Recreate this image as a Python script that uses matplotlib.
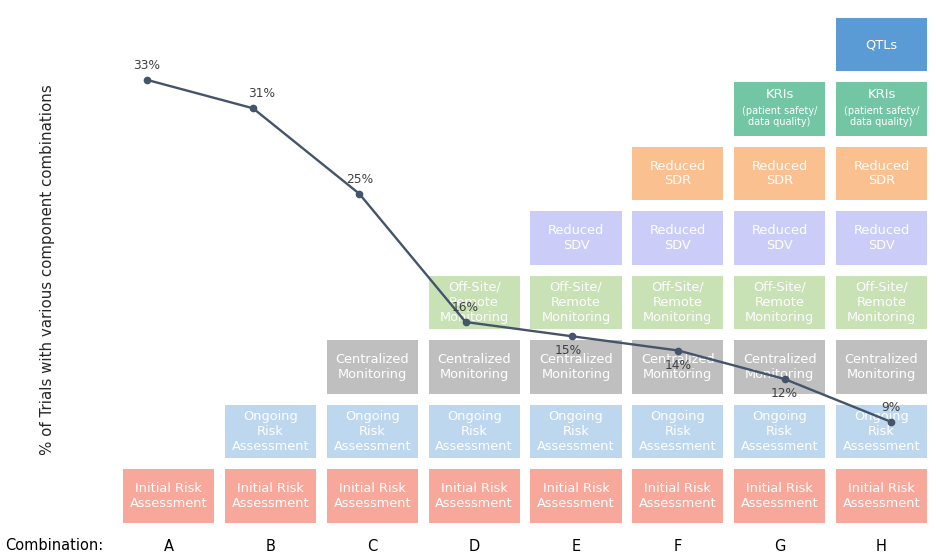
import matplotlib
matplotlib.use('Agg')
from matplotlib import pyplot as plt

plt.rcParams['font.family'] = ['DejaVu Sans']

# combinations and share of trials using each one
combos = ['A', 'B', 'C', 'D', 'E', 'F', 'G', 'H']
pct = [33, 31, 25, 16, 15, 14, 12, 9]
pct_side = ['above', 'above', 'above', 'above', 'below', 'below', 'below', 'above']

# components, stacked bottom-up; component k is present from combination k onward
components = ['Initial Risk\nAssessment', 'Ongoing\nRisk\nAssessment', 'Centralized\nMonitoring',
              'Off-Site/\nRemote\nMonitoring', 'Reduced\nSDV', 'Reduced\nSDR', 'KRIs', 'QTLs']
first_combo = [0, 1, 2, 3, 4, 5, 6, 7]
comp_colors = ['#F8A89B', '#BDD7EE', '#BFBFBF', '#C8E1B5', '#CBCDF8', '#FAC08F', '#72C6A4', '#5A9BD5']

W, H = 936, 558
fig = plt.figure(figsize=(W / 100, H / 100), dpi=100)

# box grid axes (pixel rect 117.8..932.4 x 12.25..528.25)
left, right, top, bottom = 117.8, 932.4, 12.25, 528.25
rect = [left / W, 1 - bottom / H, (right - left) / W, (bottom - top) / H]
ax = fig.add_axes(rect)
ax.set_xlim(-0.5, 7.5)
ax.set_ylim(-0.5, 7.5)

bw, bh = 0.894, 0.837
for k, name in enumerate(components):
    xs = list(range(first_combo[k], len(combos)))
    ax.bar(xs, [bh] * len(xs), bottom=k - bh / 2, width=bw, color=comp_colors[k], zorder=1)
    for x in xs:
        if name == 'KRIs':
            ax.text(x, k + 0.23, 'KRIs', ha='center', va='center', color='white', fontsize=9.5, zorder=2)
            ax.text(x, k - 0.12, '(patient safety/\ndata quality)', ha='center', va='center',
                    color='white', fontsize=7, linespacing=1.15, zorder=2)
        else:
            ax.text(x, k, name, ha='center', va='center', color='white', fontsize=9.3,
                    linespacing=1.2, zorder=2)

ax.set_xticks(range(len(combos)))
ax.set_xticklabels(combos, fontsize=10.5)
ax.tick_params(axis='x', length=0, pad=8)
ax.set_yticks([])
for s in ax.spines.values():
    s.set_visible(False)

# line axes on top, own scale
ax2 = fig.add_axes(rect)
ax2.set_xlim(-0.272, 7.391)
ax2.set_ylim(1.526, 37.74)
xi = list(range(len(pct)))
ax2.plot(xi, pct, color='#44546A', lw=1.7, marker='o', ms=4.5, zorder=3)
for i, v in enumerate(pct):
    dy = 10.5 if pct_side[i] == 'above' else -10.5
    dx = 6 if i == 1 else (-3 if i == 4 else 0)
    ax2.annotate(f'{v}%', (i, v), xytext=(dx, dy), textcoords='offset points',
                 ha='center', va='center', fontsize=8.8, color='#404040', zorder=4)
ax2.axis('off')

fig.text(5 / W, 1 - 545 / H, 'Combination:', ha='left', va='center', fontsize=10.5)
fig.text(48 / W, 1 - 270 / H, '% of Trials with various component combinations',
         rotation=90, ha='center', va='center', fontsize=10.8, color='#262626')

fig.savefig('out.png', dpi=100)
